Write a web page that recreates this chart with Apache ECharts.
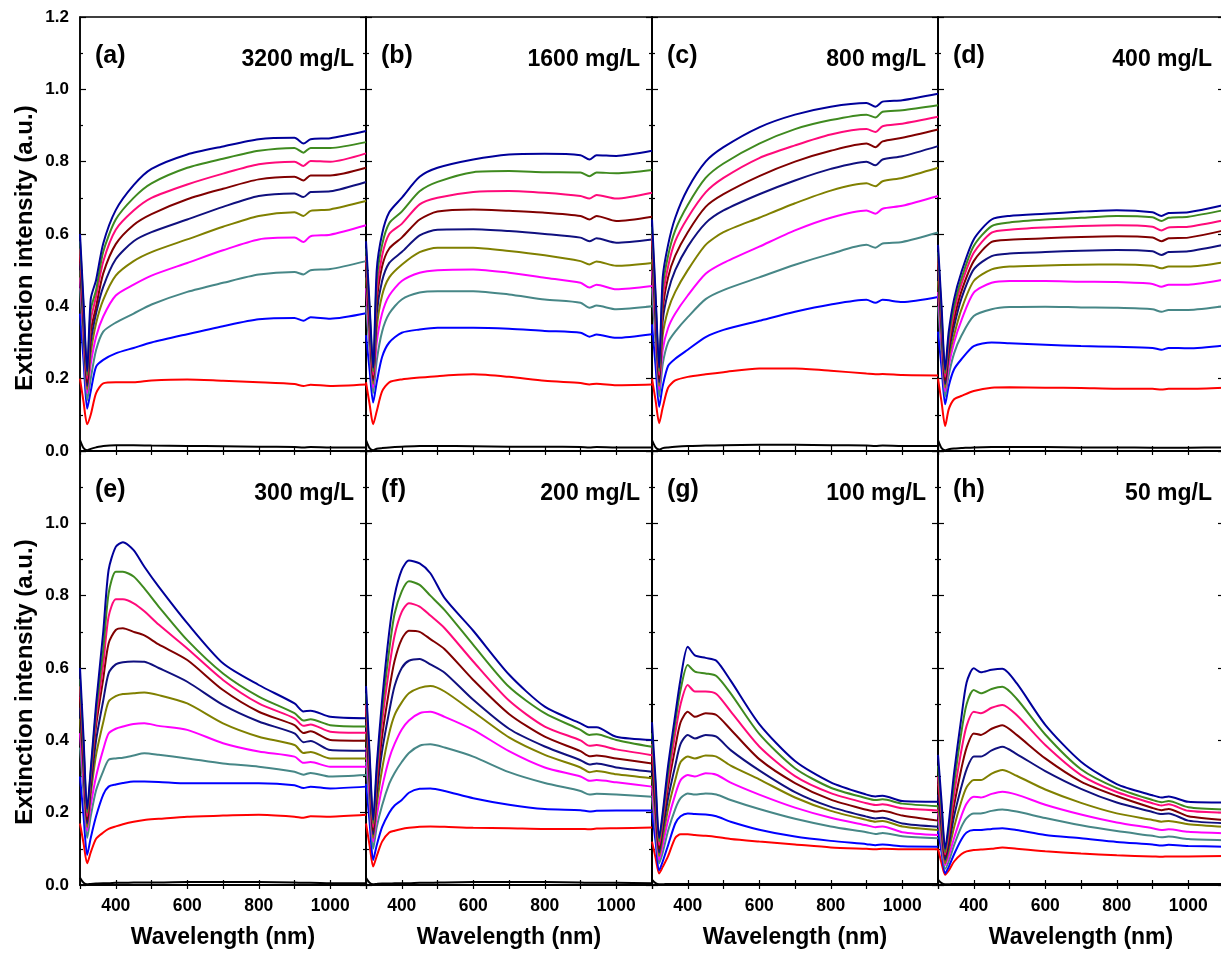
<!DOCTYPE html>
<html>
<head>
<meta charset="utf-8">
<script src="https://cdn.jsdelivr.net/npm/echarts@6/dist/echarts.min.js"></script>
<style>
html,body{margin:0;padding:0;background:#fff;overflow:hidden;}
#chart{width:1232px;height:956px;}
</style>
</head>
<body>
<div id="chart"></div>
<script>
// ---------------- DATA ----------------
const wlTop = [300,310,320,330,345,365,400,450,500,600,700,800,900,925,945,1000,1100];
const wlBottom = [300,310,320,330,345,365,380,400,420,450,480,520,600,700,800,900,925,945,1000,1100];

const seriesNames = ['Black','Red','Blue','Teal','Magenta','Olive','Navy','Wine','Pink','Green','Royal'];
const seriesColors = ['#000000','#ff0000','#0000ff','#478787','#ff00ff','#808000','#10107f','#800000','#ff0a7a','#3f8a1f','#00009a'];

const panelLabels = ['(a)','(b)','(c)','(d)','(e)','(f)','(g)','(h)'];
const concLabels = ['3200 mg/L','1600 mg/L','800 mg/L','400 mg/L','300 mg/L','200 mg/L','100 mg/L','50 mg/L'];

const yTickLabels = ['0.0','0.2','0.4','0.6','0.8','1.0','1.2'];
const xTickLabels = [400,600,800,1000];

// panel (a) 3200 mg/L  (x = wlTop)
const panelA = [
 [0.03,0.008,0.002,0.006,0.01,0.014,0.016,0.016,0.015,0.014,0.013,0.012,0.011,0.01,0.011,0.01,0.01],
 [0.2,0.135,0.074,0.1,0.16,0.187,0.19,0.19,0.195,0.198,0.194,0.19,0.185,0.18,0.183,0.18,0.184],
 [0.38,0.25,0.117,0.165,0.233,0.252,0.27,0.285,0.3,0.323,0.345,0.364,0.368,0.36,0.37,0.366,0.381],
 [0.45,0.295,0.14,0.2,0.279,0.33,0.355,0.38,0.405,0.44,0.465,0.488,0.495,0.488,0.5,0.503,0.525],
 [0.48,0.32,0.16,0.24,0.316,0.372,0.43,0.46,0.485,0.52,0.555,0.585,0.59,0.578,0.594,0.598,0.624],
 [0.5,0.335,0.17,0.27,0.353,0.418,0.485,0.525,0.55,0.585,0.62,0.65,0.66,0.65,0.664,0.668,0.691],
 [0.52,0.35,0.18,0.3,0.381,0.454,0.53,0.58,0.605,0.64,0.675,0.705,0.712,0.702,0.716,0.718,0.744],
 [0.54,0.365,0.19,0.33,0.399,0.491,0.572,0.625,0.655,0.696,0.725,0.751,0.758,0.748,0.762,0.762,0.783],
 [0.56,0.38,0.2,0.36,0.427,0.524,0.612,0.665,0.7,0.737,0.767,0.793,0.8,0.788,0.802,0.8,0.823],
 [0.58,0.395,0.21,0.39,0.445,0.551,0.64,0.7,0.74,0.783,0.808,0.83,0.838,0.825,0.838,0.838,0.854],
 [0.6,0.41,0.22,0.42,0.473,0.574,0.666,0.735,0.78,0.82,0.842,0.862,0.866,0.85,0.862,0.865,0.885]
];
// panel (b) 1600 mg/L
const panelB = [
 [0.03,0.008,0.002,0.006,0.008,0.01,0.012,0.014,0.014,0.013,0.012,0.012,0.011,0.01,0.011,0.01,0.01],
 [0.19,0.13,0.074,0.11,0.165,0.19,0.198,0.203,0.207,0.212,0.205,0.194,0.188,0.184,0.186,0.182,0.184],
 [0.32,0.225,0.134,0.19,0.26,0.3,0.327,0.336,0.341,0.341,0.338,0.332,0.327,0.316,0.322,0.313,0.323],
 [0.4,0.28,0.16,0.25,0.33,0.38,0.419,0.438,0.442,0.442,0.433,0.419,0.41,0.396,0.402,0.392,0.4],
 [0.45,0.31,0.175,0.3,0.38,0.43,0.47,0.493,0.5,0.502,0.493,0.479,0.465,0.452,0.46,0.447,0.456],
 [0.48,0.33,0.185,0.34,0.43,0.48,0.515,0.55,0.562,0.562,0.553,0.541,0.525,0.516,0.524,0.512,0.52],
 [0.5,0.35,0.195,0.38,0.47,0.52,0.55,0.596,0.612,0.613,0.608,0.6,0.59,0.58,0.588,0.576,0.585],
 [0.52,0.36,0.2,0.41,0.51,0.56,0.59,0.64,0.662,0.668,0.664,0.659,0.65,0.64,0.65,0.636,0.648],
 [0.54,0.375,0.21,0.44,0.54,0.6,0.628,0.682,0.7,0.716,0.719,0.714,0.705,0.698,0.708,0.698,0.714],
 [0.56,0.39,0.22,0.47,0.57,0.63,0.662,0.718,0.744,0.771,0.774,0.771,0.77,0.76,0.77,0.768,0.777],
 [0.58,0.405,0.23,0.5,0.6,0.66,0.7,0.758,0.783,0.806,0.82,0.822,0.818,0.806,0.818,0.816,0.83]
];
// panel (c) 800 mg/L
const panelC = [
 [0.03,0.01,0.004,0.008,0.01,0.012,0.014,0.015,0.016,0.017,0.017,0.016,0.015,0.014,0.015,0.014,0.014],
 [0.2,0.14,0.077,0.12,0.175,0.195,0.205,0.212,0.218,0.228,0.228,0.222,0.214,0.212,0.213,0.21,0.209],
 [0.35,0.235,0.122,0.18,0.235,0.255,0.28,0.315,0.335,0.36,0.385,0.405,0.418,0.41,0.418,0.412,0.426],
 [0.45,0.3,0.15,0.24,0.3,0.33,0.37,0.42,0.445,0.48,0.515,0.545,0.57,0.562,0.574,0.578,0.604],
 [0.5,0.335,0.17,0.28,0.34,0.38,0.43,0.49,0.52,0.565,0.61,0.645,0.665,0.656,0.67,0.678,0.705],
 [0.53,0.355,0.18,0.32,0.39,0.44,0.5,0.57,0.605,0.645,0.685,0.72,0.74,0.732,0.746,0.755,0.783],
 [0.56,0.375,0.19,0.36,0.44,0.5,0.565,0.63,0.665,0.71,0.748,0.78,0.8,0.79,0.806,0.815,0.843],
 [0.58,0.39,0.2,0.39,0.48,0.54,0.605,0.675,0.71,0.76,0.8,0.83,0.85,0.84,0.856,0.866,0.889],
 [0.6,0.405,0.21,0.42,0.51,0.58,0.645,0.715,0.755,0.81,0.845,0.875,0.89,0.882,0.898,0.905,0.924],
 [0.62,0.42,0.22,0.45,0.54,0.61,0.68,0.755,0.795,0.85,0.89,0.915,0.93,0.922,0.938,0.942,0.956],
 [0.64,0.435,0.23,0.48,0.57,0.645,0.725,0.8,0.84,0.895,0.93,0.952,0.962,0.952,0.966,0.97,0.988]
];
// panel (d) 400 mg/L
const panelD = [
 [0.03,0.008,0.002,0.005,0.007,0.008,0.01,0.011,0.011,0.011,0.01,0.01,0.009,0.009,0.009,0.009,0.01],
 [0.2,0.135,0.069,0.115,0.143,0.152,0.166,0.175,0.176,0.175,0.174,0.172,0.172,0.17,0.172,0.172,0.175],
 [0.33,0.23,0.129,0.18,0.226,0.253,0.29,0.3,0.298,0.294,0.29,0.288,0.285,0.28,0.285,0.284,0.292],
 [0.4,0.275,0.15,0.21,0.27,0.318,0.373,0.392,0.398,0.399,0.397,0.396,0.392,0.385,0.39,0.39,0.4],
 [0.44,0.3,0.165,0.235,0.3,0.36,0.438,0.465,0.47,0.47,0.468,0.467,0.462,0.454,0.46,0.46,0.474],
 [0.47,0.32,0.175,0.255,0.32,0.39,0.47,0.502,0.51,0.513,0.515,0.516,0.512,0.505,0.51,0.51,0.522],
 [0.5,0.34,0.185,0.27,0.345,0.42,0.502,0.539,0.546,0.55,0.554,0.556,0.552,0.542,0.55,0.552,0.57],
 [0.52,0.36,0.195,0.285,0.365,0.44,0.525,0.578,0.584,0.588,0.592,0.594,0.59,0.58,0.588,0.59,0.61],
 [0.54,0.37,0.205,0.3,0.385,0.46,0.548,0.604,0.612,0.618,0.622,0.624,0.62,0.61,0.618,0.62,0.638],
 [0.55,0.38,0.215,0.315,0.4,0.475,0.567,0.622,0.632,0.64,0.645,0.65,0.646,0.636,0.645,0.648,0.666],
 [0.57,0.4,0.225,0.33,0.42,0.493,0.585,0.64,0.65,0.656,0.662,0.666,0.66,0.65,0.658,0.66,0.68]
];
// panel (e) 300 mg/L  (x = wlBottom)
const panelE = [
 [0.02,0.006,0.002,0.003,0.004,0.005,0.005,0.006,0.006,0.007,0.007,0.007,0.008,0.008,0.008,0.007,0.006,0.006,0.005,0.005],
 [0.17,0.115,0.06,0.09,0.128,0.145,0.155,0.162,0.168,0.175,0.18,0.183,0.189,0.192,0.194,0.189,0.186,0.19,0.189,0.194],
 [0.3,0.19,0.083,0.13,0.19,0.25,0.272,0.278,0.282,0.286,0.286,0.285,0.281,0.281,0.281,0.276,0.268,0.272,0.267,0.272],
 [0.38,0.255,0.13,0.19,0.262,0.315,0.346,0.35,0.352,0.358,0.364,0.36,0.35,0.336,0.327,0.313,0.305,0.31,0.3,0.304],
 [0.42,0.285,0.15,0.22,0.3,0.375,0.419,0.432,0.438,0.445,0.447,0.44,0.429,0.392,0.369,0.355,0.338,0.34,0.327,0.327],
 [0.46,0.31,0.16,0.25,0.36,0.45,0.507,0.522,0.528,0.53,0.532,0.525,0.502,0.447,0.41,0.387,0.365,0.368,0.35,0.35],
 [0.49,0.33,0.17,0.27,0.4,0.51,0.585,0.61,0.616,0.618,0.617,0.6,0.562,0.498,0.452,0.419,0.395,0.398,0.373,0.371],
 [0.52,0.35,0.18,0.29,0.44,0.57,0.668,0.705,0.71,0.7,0.69,0.665,0.622,0.539,0.479,0.442,0.42,0.425,0.401,0.399],
 [0.55,0.37,0.19,0.3,0.46,0.61,0.742,0.79,0.79,0.779,0.757,0.72,0.654,0.567,0.502,0.461,0.44,0.444,0.424,0.421],
 [0.57,0.385,0.2,0.31,0.48,0.65,0.806,0.866,0.866,0.853,0.82,0.77,0.677,0.585,0.521,0.475,0.455,0.458,0.442,0.438],
 [0.6,0.405,0.21,0.32,0.5,0.7,0.871,0.935,0.948,0.926,0.88,0.825,0.724,0.613,0.553,0.502,0.48,0.482,0.465,0.461]
];
// panel (f) 200 mg/L
const panelF = [
 [0.02,0.006,0.002,0.003,0.004,0.004,0.005,0.005,0.005,0.006,0.006,0.007,0.008,0.008,0.008,0.007,0.006,0.006,0.006,0.005],
 [0.17,0.11,0.051,0.08,0.12,0.145,0.15,0.155,0.158,0.161,0.162,0.161,0.158,0.157,0.155,0.155,0.154,0.156,0.157,0.159],
 [0.28,0.175,0.069,0.11,0.16,0.2,0.22,0.235,0.255,0.266,0.267,0.26,0.24,0.222,0.21,0.207,0.203,0.205,0.206,0.206],
 [0.34,0.22,0.1,0.16,0.22,0.28,0.31,0.34,0.365,0.385,0.389,0.38,0.355,0.312,0.282,0.26,0.25,0.252,0.25,0.244],
 [0.38,0.25,0.12,0.19,0.27,0.35,0.39,0.43,0.455,0.475,0.479,0.465,0.429,0.37,0.325,0.3,0.288,0.29,0.284,0.272],
 [0.42,0.275,0.13,0.22,0.32,0.42,0.47,0.505,0.53,0.545,0.55,0.535,0.479,0.408,0.36,0.325,0.312,0.315,0.306,0.295],
 [0.45,0.295,0.14,0.25,0.37,0.48,0.55,0.6,0.62,0.625,0.61,0.587,0.512,0.432,0.383,0.345,0.333,0.336,0.325,0.313],
 [0.48,0.315,0.15,0.27,0.41,0.54,0.62,0.68,0.703,0.7,0.68,0.652,0.567,0.473,0.41,0.37,0.356,0.358,0.35,0.336],
 [0.5,0.33,0.16,0.29,0.45,0.6,0.69,0.755,0.779,0.77,0.745,0.71,0.618,0.51,0.438,0.4,0.385,0.387,0.375,0.359],
 [0.53,0.35,0.17,0.31,0.48,0.65,0.75,0.812,0.84,0.83,0.8,0.76,0.664,0.548,0.475,0.429,0.415,0.417,0.401,0.382],
 [0.55,0.365,0.18,0.33,0.51,0.7,0.8,0.871,0.897,0.889,0.862,0.793,0.703,0.582,0.493,0.447,0.436,0.436,0.41,0.401]
];
// panel (g) 100 mg/L
const panelG = [
 [0.015,0.005,0.002,0.002,0.003,0.003,0.003,0.003,0.003,0.003,0.003,0.003,0.003,0.003,0.003,0.003,0.003,0.003,0.003,0.003],
 [0.12,0.075,0.032,0.05,0.08,0.13,0.14,0.14,0.138,0.136,0.133,0.127,0.12,0.112,0.104,0.1,0.099,0.1,0.099,0.099],
 [0.2,0.12,0.04,0.065,0.11,0.17,0.19,0.198,0.196,0.195,0.19,0.175,0.153,0.134,0.122,0.113,0.11,0.112,0.107,0.106],
 [0.24,0.15,0.06,0.09,0.15,0.21,0.24,0.253,0.25,0.253,0.25,0.235,0.21,0.183,0.162,0.146,0.141,0.144,0.135,0.129],
 [0.27,0.17,0.07,0.11,0.18,0.25,0.29,0.304,0.3,0.309,0.305,0.283,0.25,0.214,0.186,0.165,0.16,0.162,0.146,0.138],
 [0.3,0.19,0.08,0.13,0.21,0.29,0.34,0.355,0.35,0.358,0.355,0.33,0.292,0.242,0.205,0.18,0.175,0.177,0.162,0.152],
 [0.33,0.21,0.09,0.15,0.24,0.33,0.39,0.415,0.405,0.415,0.41,0.373,0.317,0.257,0.216,0.189,0.184,0.186,0.17,0.161],
 [0.36,0.23,0.1,0.17,0.27,0.38,0.45,0.479,0.465,0.475,0.47,0.43,0.348,0.282,0.236,0.208,0.203,0.205,0.192,0.178],
 [0.39,0.25,0.11,0.18,0.29,0.42,0.5,0.553,0.535,0.535,0.528,0.48,0.383,0.301,0.254,0.226,0.221,0.223,0.212,0.206],
 [0.42,0.27,0.12,0.19,0.31,0.45,0.54,0.608,0.59,0.585,0.578,0.53,0.418,0.323,0.269,0.24,0.235,0.237,0.225,0.218],
 [0.45,0.29,0.13,0.2,0.33,0.47,0.57,0.659,0.635,0.628,0.62,0.565,0.445,0.343,0.284,0.25,0.245,0.247,0.232,0.23]
];
// panel (h) 50 mg/L
const panelH = [
 [0.015,0.005,0.002,0.002,0.003,0.003,0.003,0.003,0.003,0.003,0.003,0.003,0.003,0.003,0.003,0.003,0.003,0.003,0.003,0.003],
 [0.1,0.06,0.028,0.04,0.065,0.085,0.093,0.097,0.098,0.1,0.104,0.1,0.093,0.087,0.082,0.079,0.078,0.079,0.079,0.08],
 [0.15,0.09,0.032,0.05,0.085,0.125,0.145,0.152,0.152,0.155,0.157,0.152,0.138,0.129,0.119,0.112,0.109,0.111,0.108,0.106],
 [0.18,0.11,0.045,0.065,0.11,0.16,0.185,0.198,0.198,0.205,0.209,0.203,0.185,0.165,0.149,0.136,0.132,0.134,0.127,0.124],
 [0.2,0.125,0.055,0.08,0.13,0.19,0.225,0.244,0.242,0.252,0.258,0.25,0.222,0.195,0.173,0.157,0.152,0.154,0.147,0.143],
 [0.22,0.14,0.06,0.095,0.16,0.23,0.27,0.29,0.29,0.308,0.318,0.302,0.264,0.227,0.198,0.18,0.175,0.177,0.168,0.161],
 [0.25,0.16,0.07,0.11,0.19,0.27,0.32,0.355,0.355,0.372,0.382,0.362,0.315,0.266,0.228,0.202,0.196,0.198,0.178,0.171],
 [0.28,0.18,0.08,0.125,0.22,0.32,0.38,0.419,0.415,0.432,0.442,0.415,0.35,0.286,0.246,0.213,0.207,0.21,0.19,0.18],
 [0.3,0.19,0.085,0.14,0.25,0.37,0.44,0.479,0.475,0.49,0.498,0.47,0.387,0.304,0.257,0.226,0.22,0.223,0.205,0.2],
 [0.33,0.21,0.09,0.155,0.28,0.42,0.5,0.539,0.53,0.542,0.548,0.515,0.416,0.32,0.268,0.235,0.229,0.232,0.215,0.209],
 [0.36,0.23,0.1,0.17,0.31,0.46,0.56,0.599,0.588,0.595,0.598,0.558,0.443,0.341,0.279,0.248,0.242,0.245,0.23,0.228]
];

const panels = [panelA,panelB,panelC,panelD,panelE,panelF,panelG,panelH];

// ---------------- LAYOUT ----------------
const FONT = '"Liberation Sans", Arial, Helvetica, sans-serif';
const colLeft = [80, 366, 652, 938];
const rowTop = [17, 451];
const PW = 286, PH = 434;

const grids = [], xAxes = [], yAxes = [], series = [], graphics = [];

for (let p = 0; p < 8; p++) {
  const row = Math.floor(p / 4), col = p % 4;
  const left = colLeft[col], top = rowTop[row];
  grids.push({left: left, top: top, width: PW, height: PH, show: true,
    borderColor: '#000', borderWidth: 1.5, backgroundColor: 'transparent'});

  const isBottom = row === 1;
  const isLeft = col === 0;

  // bottom x axis
  xAxes.push({
    type: 'value', gridIndex: p, min: 300, max: 1100, interval: 100, position: 'bottom',
    name: isBottom ? 'Wavelength (nm)' : '', nameLocation: 'middle', nameGap: 41,
    nameTextStyle: {fontFamily: FONT, fontWeight: 'bold', fontSize: 23, color: '#000'},
    axisLine: {show: true, lineStyle: {color: '#000', width: 1.5}},
    axisTick: {show: true, inside: true, length: 5, lineStyle: {color: '#000', width: 1.2}},
    axisLabel: {show: isBottom, margin: 12, fontFamily: FONT, fontWeight: 'bold', fontSize: 17.5, color: '#000',
      formatter: v => xTickLabels.includes(v) ? String(v) : ''},
    splitLine: {show: false}
  });
  // top mirrored x axis
  xAxes.push({
    type: 'value', gridIndex: p, min: 300, max: 1100, interval: 100, position: 'top',
    axisLine: {show: true, lineStyle: {color: '#000', width: 1.5}},
    axisTick: {show: true, inside: true, length: 4, lineStyle: {color: '#000', width: 1.2}},
    axisLabel: {show: false}, splitLine: {show: false}
  });
  // left y axis
  yAxes.push({
    type: 'value', gridIndex: p, min: 0, max: 1.2, interval: 0.2, position: 'left',
    axisLine: {show: true, lineStyle: {color: '#000', width: 1.5}},
    axisTick: {show: true, inside: true, length: 6, lineStyle: {color: '#000', width: 1.2}},
    minorTick: {show: true, splitNumber: 2, length: 3, lineStyle: {color: '#000', width: 1.2}},
    axisLabel: {show: isLeft, margin: 11, fontFamily: FONT, fontWeight: 'bold', fontSize: 17, color: '#000',
      formatter: v => {
        const i = Math.round(v / 0.2);
        if (isBottom && i === 6) return '';
        return yTickLabels[i] || '';
      }},
    splitLine: {show: false}
  });
  // right mirrored y axis
  yAxes.push({
    type: 'value', gridIndex: p, min: 0, max: 1.2, interval: 0.2, position: 'right',
    axisLine: {show: true, lineStyle: {color: '#000', width: 1.5}},
    axisTick: {show: true, inside: true, length: 6, lineStyle: {color: '#000', width: 1.2}},
    minorTick: {show: true, splitNumber: 2, length: 3, lineStyle: {color: '#000', width: 1.2}},
    axisLabel: {show: false}, splitLine: {show: false}
  });

  const wl = isBottom ? wlBottom : wlTop;
  panels[p].forEach((vals, k) => {
    series.push({
      type: 'line', name: seriesNames[k], xAxisIndex: 2 * p, yAxisIndex: 2 * p,
      data: wl.map((x, i) => [x, vals[i]]),
      showSymbol: false, symbol: 'none', smooth: 0.25, clip: true,
      lineStyle: {color: seriesColors[k], width: 2},
      itemStyle: {color: seriesColors[k]}, animation: false, z: 2 + k
    });
  });

  graphics.push({type: 'text', left: left + 15, top: top + 27, z: 100,
    style: {text: panelLabels[p], font: 'bold 25px ' + FONT, fill: '#000'}});
  graphics.push({type: 'text', right: 1232 - (left + PW - 12), top: top + 31, z: 100,
    style: {text: concLabels[p], font: 'bold 23px ' + FONT, fill: '#000', textAlign: 'right'}});
}

['Extinction intensity (a.u.)', 'Extinction intensity (a.u.)'].forEach((t, r) => {
  graphics.push({type: 'text', x: 25, y: rowTop[r] + PH / 2 + 14, rotation: Math.PI / 2, z: 100,
    style: {text: t, font: 'bold 24px ' + FONT, fill: '#000', textAlign: 'center', textVerticalAlign: 'middle'}});
});

const chart = echarts.init(document.getElementById('chart'), null, {renderer: 'canvas'});
chart.setOption({
  backgroundColor: '#ffffff',
  animation: false,
  grid: grids, xAxis: xAxes, yAxis: yAxes, series: series, graphic: graphics
});
</script>
</body>
</html>
